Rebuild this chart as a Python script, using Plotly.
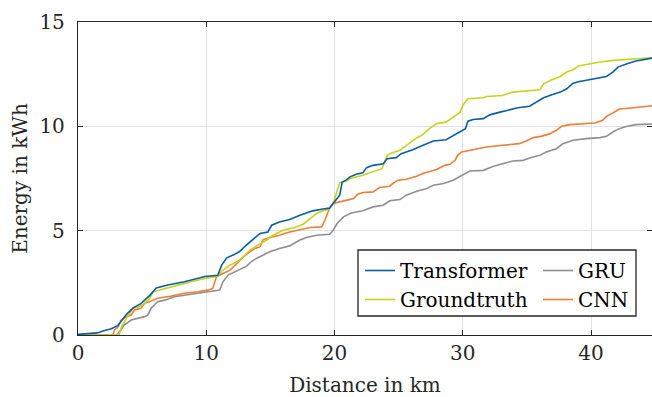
import plotly.graph_objects as go

# (distance km, energy kWh)
transformer = [(0, 0.03), (1.0, 0.06), (1.5, 0.1), (2.0, 0.2), (2.6, 0.3), (3.1, 0.45), (3.4, 0.7), (3.8, 1.0),
               (4.3, 1.3), (4.9, 1.5), (5.6, 1.9), (6.1, 2.25), (7.0, 2.4), (8.3, 2.55), (9.9, 2.8), (10.9, 2.86),
               (11.2, 3.35), (11.6, 3.7), (12.1, 3.83), (12.6, 4.0), (13.1, 4.3), (13.7, 4.63), (14.2, 4.87),
               (14.8, 4.94), (15.1, 5.26), (15.7, 5.42), (16.5, 5.53), (17.3, 5.74), (18.3, 5.95), (19.1, 6.04),
               (19.6, 6.08), (20.2, 6.54), (20.4, 6.7), (20.6, 7.33), (20.9, 7.42), (21.2, 7.58), (21.7, 7.70),
               (22.2, 7.77), (22.5, 8.02), (23.0, 8.13), (23.8, 8.21), (24.1, 8.45), (24.8, 8.5), (25.2, 8.69),
               (26.1, 8.88), (26.9, 9.09), (27.7, 9.3), (28.7, 9.36), (29.3, 9.57), (29.8, 9.73), (30.2, 9.89),
               (30.4, 10.25), (30.8, 10.33), (31.6, 10.37), (32.1, 10.55), (32.9, 10.68), (33.7, 10.8), (34.3, 10.89),
               (35.2, 10.96), (35.6, 11.11), (35.9, 11.2), (36.3, 11.37), (37.0, 11.53), (37.6, 11.64), (38.1, 11.8),
               (38.6, 12.07), (39.1, 12.15), (39.9, 12.23), (40.7, 12.33), (41.2, 12.39), (41.7, 12.6), (42.1, 12.84),
               (42.8, 13.0), (43.5, 13.13), (45.0, 13.3)]

groundtruth = [(0, 0), (3.2, 0), (3.4, 0.4), (3.77, 0.8), (4.3, 1.28), (4.8, 1.36), (5.2, 1.52), (5.6, 1.76),
               (5.85, 2.07), (6.75, 2.23), (7.8, 2.39), (8.83, 2.55), (9.87, 2.71), (10.9, 2.82), (11.3, 3.11),
               (11.85, 3.35), (12.4, 3.51), (12.9, 3.75), (13.4, 4.07), (14.05, 4.31), (14.7, 4.55), (15.2, 4.78),
               (16.0, 5.02), (16.9, 5.15), (17.55, 5.31), (18.1, 5.58), (18.6, 5.82), (19.1, 5.95), (19.5, 6.01),
               (19.9, 6.3), (20.2, 6.94), (20.4, 7.29), (20.9, 7.38), (21.2, 7.5), (22.2, 7.66), (23.0, 7.81),
               (23.7, 7.97), (24.1, 8.61), (24.45, 8.72), (25.1, 8.85), (25.5, 9.04), (25.9, 9.2), (26.3, 9.41),
               (26.8, 9.57), (27.4, 9.89), (27.95, 10.13), (28.7, 10.2), (29.25, 10.44), (29.8, 10.68), (30.0, 11.0),
               (30.4, 11.32), (31.6, 11.37), (31.85, 11.43), (33.1, 11.48), (33.9, 11.64), (36.0, 11.75),
               (36.3, 12.04), (36.8, 12.2), (37.6, 12.39), (38.1, 12.6), (38.6, 12.71), (39.0, 12.89), (39.9, 13.0),
               (40.7, 13.08), (41.7, 13.16), (42.8, 13.21), (45.0, 13.3)]

cnn = [(0, 0), (2.7, 0), (2.86, 0.24), (3.1, 0.37), (3.38, 0.72), (3.77, 0.88), (4.15, 0.96), (4.4, 1.2),
       (4.9, 1.28), (5.2, 1.52), (5.6, 1.6), (6.2, 1.76), (7.3, 1.87), (8.3, 2.0), (9.35, 2.07), (10.1, 2.15),
       (10.5, 2.23), (10.8, 2.79), (11.3, 2.95), (11.85, 3.11), (12.4, 3.43), (12.9, 3.75), (13.4, 3.99),
       (13.8, 4.15), (14.2, 4.23), (14.4, 4.55), (14.95, 4.67), (15.7, 4.78), (16.5, 4.94), (17.3, 5.06),
       (18.1, 5.15), (19.0, 5.18), (19.25, 5.5), (19.6, 6.06), (19.9, 6.3), (20.4, 6.38), (21.2, 6.49),
       (21.5, 6.54), (21.8, 6.75), (22.2, 6.83), (23.0, 6.86), (23.5, 7.07), (24.3, 7.13), (24.6, 7.29),
       (24.95, 7.42), (25.6, 7.46), (26.4, 7.61), (26.9, 7.74), (27.95, 7.93), (28.6, 8.13), (29.0, 8.18),
       (29.4, 8.37), (29.6, 8.61), (29.9, 8.77), (30.3, 8.82), (31.1, 8.93), (31.85, 9.01), (33.1, 9.09),
       (34.4, 9.17), (34.95, 9.3), (35.5, 9.46), (36.1, 9.52), (36.8, 9.65), (37.3, 9.81), (37.7, 10.0),
       (38.35, 10.08), (39.4, 10.13), (40.3, 10.16), (40.9, 10.29), (41.2, 10.48), (41.7, 10.64), (42.2, 10.83),
       (43.3, 10.89), (45.0, 11.0)]

gru = [(0, 0), (3.0, 0), (3.25, 0.16), (3.6, 0.48), (4.15, 0.72), (4.7, 0.8), (5.2, 0.88), (5.45, 0.96),
       (5.7, 1.28), (6.2, 1.6), (6.75, 1.67), (7.5, 1.83), (8.3, 1.91), (9.35, 2.02), (10.4, 2.1), (11.05, 2.15),
       (11.3, 2.55), (11.7, 2.87), (12.1, 2.98), (12.6, 3.14), (13.15, 3.3), (13.5, 3.51), (13.9, 3.67),
       (14.45, 3.83), (14.95, 3.99), (15.7, 4.15), (16.5, 4.27), (17.3, 4.55), (17.8, 4.67), (18.6, 4.78),
       (19.6, 4.83), (19.9, 5.02), (20.2, 5.34), (20.7, 5.66), (21.3, 5.85), (22.2, 5.95), (23.0, 6.14),
       (23.8, 6.22), (24.3, 6.43), (25.1, 6.49), (25.6, 6.7), (26.4, 6.89), (27.2, 7.02), (27.7, 7.18),
       (28.5, 7.26), (29.25, 7.42), (30.0, 7.66), (30.55, 7.86), (31.6, 7.89), (32.4, 8.09), (33.1, 8.21),
       (33.9, 8.34), (34.7, 8.37), (35.2, 8.48), (36.0, 8.61), (36.5, 8.77), (37.3, 8.93), (37.8, 9.17),
       (38.6, 9.33), (39.6, 9.41), (40.7, 9.46), (41.2, 9.52), (41.7, 9.73), (42.2, 9.89), (42.8, 10.0),
       (43.5, 10.08), (45.0, 10.12)]

x_ticks = [0, 10, 20, 30, 40]
y_ticks = [0, 5, 10, 15]

FONT = "DejaVu Serif, Liberation Serif, serif"
FS = 20
TFS = 20
AX = "#262626"

series = [
    # name, data, colour, legend, rank
    ("GRU", gru, "#8f8f8f", "legend2", 1),
    ("CNN", cnn, "#ee7d35", "legend2", 2),
    ("Groundtruth", groundtruth, "#c5d31c", "legend", 2),
    ("Transformer", transformer, "#0b5ca6", "legend", 1),
]

fig = go.Figure()
for name, pts, col, leg, rank in series:
    xs = [p[0] for p in pts]
    ys = [p[1] for p in pts]
    fig.add_trace(go.Scatter(x=xs, y=ys, mode="lines", name=name,
                             line=dict(color=col, width=1.6),
                             legend=leg, legendrank=rank))

L, R, T, B = 78, 0, 22, 62
PW = 652 - L - R
PH = 397 - T - B

def px2paper_x(px):
    return (px - L) / PW

def py2paper_y(py):
    return (397 - B - py) / PH

legend_common = dict(font=dict(family=FONT, size=FS, color="black"),
                     bgcolor="rgba(0,0,0,0)", borderwidth=0,
                     xanchor="left", yanchor="top", tracegroupgap=0,
                     itemwidth=30)

fig.update_layout(
    width=652, height=397,
    margin=dict(l=L, r=R, t=T, b=B),
    paper_bgcolor="white", plot_bgcolor="white",
    font=dict(family=FONT, size=FS, color=AX),
    showlegend=True,
    legend=dict(x=px2paper_x(360), y=py2paper_y(251), **legend_common),
    legend2=dict(x=px2paper_x(538), y=py2paper_y(251), **legend_common),
    shapes=[dict(type="rect", xref="paper", yref="paper",
                 x0=px2paper_x(358), x1=px2paper_x(636),
                 y0=py2paper_y(316), y1=py2paper_y(250),
                 line=dict(color=AX, width=1.3), fillcolor="white", layer="above")],
)

fig.update_xaxes(range=[0, 44.75], tickvals=x_ticks, ticks="inside", ticklen=5,
                 tickcolor=AX, showline=True, linecolor=AX, linewidth=1.3, mirror="ticks",
                 showgrid=True, gridcolor="#e1e1e1", gridwidth=1, zeroline=False,
                 tickfont=dict(family=FONT, size=TFS, color=AX),
                 title=dict(text="Distance in km", font=dict(family=FONT, size=FS, color=AX), standoff=14))
fig.update_yaxes(range=[0, 15], tickvals=y_ticks, ticks="inside", ticklen=5,
                 tickcolor=AX, showline=True, linecolor=AX, linewidth=1.3, mirror="ticks",
                 showgrid=True, gridcolor="#e1e1e1", gridwidth=1, zeroline=False,
                 ticklabelstandoff=8,
                 tickfont=dict(family=FONT, size=TFS, color=AX),
                 title=dict(text="Energy in kWh", font=dict(family=FONT, size=FS, color=AX), standoff=6))

fig.write_html("out.html")
